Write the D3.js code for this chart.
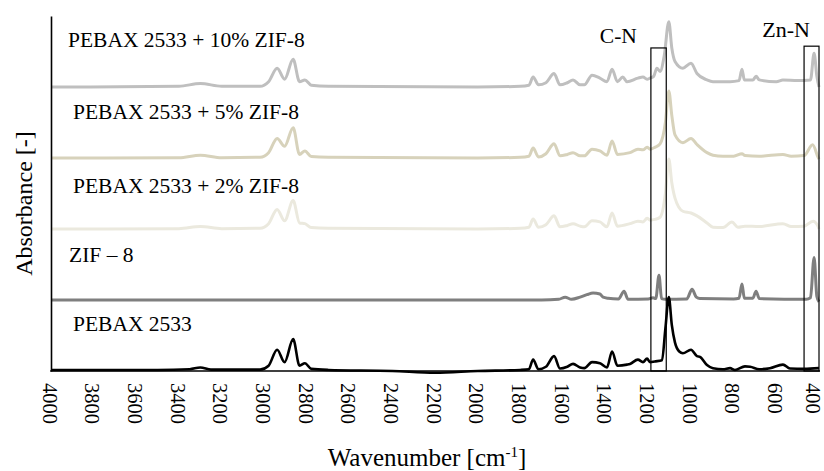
<!DOCTYPE html>
<html lang="en">
<head>
    <meta charset="UTF-8">
    <title>FTIR spectra - PEBAX 2533 / ZIF-8</title>
    <script src="https://d3js.org/d3.v7.min.js"></script>
    <style>
        body {
            margin: 0;
            padding: 0;
            background-color: #ffffff;
        }

        svg, svg text {
            font-family: "Liberation Serif", "Times New Roman", Tinos, "DejaVu Serif", serif !important;
            fill: #000;
        }
    </style>
</head>
<body>
    <div id="chart"></div>

    <script>
        // tick labels on the wavenumber axis
        var xTicks = [4000, 3800, 3600, 3400, 3200, 3000, 2800, 2600, 2400, 2200,
                      2000, 1800, 1600, 1400, 1200, 1000, 800, 600, 400];

        // series names, in drawing order (top trace first)
        var seriesNames = ["PEBAX 2533 + 10% ZIF-8", "PEBAX 2533 + 5% ZIF-8",
                           "PEBAX 2533 + 2% ZIF-8", "ZIF \u2013 8", "PEBAX 2533"];
        // vertical offset of each trace (stacked plot)
        var seriesOffsets = [8, 6, 4, 2, 0];

        // PEBAX 2533 + 10% ZIF-8
        var wn10 = [4000, 3400, 3300, 3200, 3020, 2980, 2940, 2905, 2865, 2835, 2810, 2780, 2700, 2000,
                    1800, 1760, 1740, 1715, 1680, 1642, 1614, 1580, 1553, 1520, 1500, 1464, 1427, 1394,
                    1370, 1345, 1320, 1300, 1249, 1225, 1206, 1192, 1175, 1160, 1145, 1125, 1104, 1090,
                    1075, 1038, 1000, 972, 925, 897, 817, 775, 761, 750, 710, 695, 680, 600, 569, 500,
                    440, 423, 410, 400];
        var abs10 = [0, 0.02, 0.1, 0.02, 0.02, 0.15, 0.53, 0.22, 0.78, 0.15, 0.2, 0.05, 0.02, 0,
                     0.02, 0.05, 0.28, 0.06, 0.12, 0.38, 0.06, 0.12, 0.2, 0.06, 0.06, 0.33, 0.25, 0.15,
                     0.5, 0.15, 0.28, 0.15, 0.25, 0.28, 0.22, 0.25, 0.3, 0.53, 0.44, 0.9, 1.84, 1.1,
                     0.72, 0.53, 0.67, 0.38, 0.2, 0.15, 0.15, 0.18, 0.5, 0.2, 0.2, 0.3, 0.2, 0.15, 0.2, 0.18,
                     0.2, 0.95, 0.3, 0];

        // PEBAX 2533 + 5% ZIF-8
        var wn5 = [4000, 3400, 3300, 3200, 3020, 2980, 2940, 2905, 2865, 2835, 2810, 2780, 2700, 2000,
                   1800, 1760, 1740, 1715, 1680, 1642, 1614, 1580, 1553, 1520, 1500, 1464, 1427, 1394,
                   1370, 1345, 1286, 1249, 1225, 1206, 1192, 1170, 1145, 1120, 1104, 1090, 1075, 1038,
                   1000, 972, 925, 897, 850, 800, 761, 747, 680, 569, 530, 470, 430, 405, 400];
        var abs5 = [0, 0.01, 0.08, 0.01, 0.02, 0.15, 0.55, 0.33, 0.85, 0.1, 0.2, 0.04, 0.02, 0,
                    0.02, 0.05, 0.28, 0.03, 0.12, 0.4, 0.06, 0.1, 0.15, 0.06, 0.06, 0.25, 0.2, 0.08,
                    0.48, 0.1, 0.15, 0.25, 0.23, 0.3, 0.25, 0.3, 0.4, 1.0, 1.89, 1.2, 0.65, 0.43,
                    0.55, 0.38, 0.15, 0.08, 0.05, 0.05, 0.12, 0.07, 0.05, 0.1, 0.05, 0.07, 0.37, 0.03, -0.03];

        // PEBAX 2533 + 2% ZIF-8
        var wn2 = [4000, 3400, 3300, 3200, 3020, 2980, 2940, 2905, 2865, 2835, 2810, 2780, 2700, 2000,
                   1800, 1760, 1740, 1715, 1680, 1642, 1614, 1580, 1553, 1520, 1500, 1464, 1427, 1394,
                   1370, 1345, 1286, 1249, 1225, 1206, 1192, 1170, 1145, 1120, 1104, 1090, 1075, 1038,
                   1000, 972, 925, 897, 850, 808, 780, 747, 680, 569, 530, 470, 428, 405, 400];
        var abs2 = [0, 0.01, 0.07, 0.01, 0.02, 0.15, 0.55, 0.23, 0.8, 0.17, 0.15, 0.04, 0.02, 0,
                    0.02, 0.05, 0.28, 0.05, 0.12, 0.37, 0.06, 0.1, 0.15, 0.08, 0.06, 0.23, 0.2, 0.06,
                    0.45, 0.08, 0.15, 0.22, 0.2, 0.3, 0.25, 0.27, 0.33, 1.0, 1.97, 1.3, 0.87, 0.5,
                    0.45, 0.37, 0.17, 0.05, 0.04, 0.2, 0.05, 0.08, 0.07, 0.15, 0.07, 0.08, 0.22, 0.08, 0];

        // ZIF-8
        var wnZif = [4000, 1700, 1620, 1590, 1560, 1520, 1488, 1459, 1427, 1412, 1389, 1340, 1314, 1295,
                     1200, 1178, 1165, 1150, 1138, 1120, 1020, 995, 975, 958, 800, 775, 761, 750, 710,
                     695, 680, 460, 440, 423, 410, 400];
        var absZif = [0, 0, 0.02, 0.08, 0.02, 0.08, 0.15, 0.2, 0.17, 0.08, 0.05, 0.03, 0.25, 0.02,
                      0.03, 0.06, 0.04, 0.7, 0.04, 0.02, 0.03, 0.3, 0.08, 0.04, 0.03, 0.05, 0.45, 0.05, 0.05,
                      0.25, 0.04, 0.02, 0.06, 1.2, 0.1, -0.05];

        // PEBAX 2533
        var wnPebax = [4000, 3500, 3350, 3300, 3250, 3020, 2980, 2940, 2905, 2865, 2835, 2810, 2780, 2700,
                       2400, 2200, 2000, 1800, 1760, 1740, 1715, 1680, 1642, 1614, 1580, 1553, 1520, 1500,
                       1464, 1427, 1394, 1370, 1345, 1300, 1286, 1249, 1225, 1206, 1192, 1170, 1136, 1120,
                       1104, 1090, 1075, 1055, 1038, 1000, 972, 958, 925, 897, 850, 817, 794, 747, 723,
                       680, 630, 569, 536, 470, 400];
        var absPebax = [0.03, 0.03, 0.05, 0.1, 0.04, 0.04, 0.15, 0.6, 0.25, 0.9, 0.15, 0.22, 0.06, 0.03,
                        0, -0.05, 0, 0.03, 0.05, 0.32, 0.05, 0.12, 0.42, 0.07, 0.12, 0.2, 0.1, 0.08,
                        0.25, 0.22, 0.1, 0.55, 0.15, 0.18, 0.2, 0.32, 0.25, 0.35, 0.25, 0.27, 0.3, 1.2,
                        2.08, 1.3, 0.8, 0.55, 0.5, 0.6, 0.42, 0.4, 0.17, 0.08, 0.05, 0.08, 0.03, 0.13, 0.12,
                        0.05, 0.08, 0.18, 0.07, 0.06, 0.08];

        // marked bands
        var bandNames = ["C-N", "Zn-N"];
        var bandRanges = [[1188, 1116], [470, 400]];
        var bandTops = [9.1, 9.15];

        var seriesWn = [wn10, wn5, wn2, wnZif, wnPebax];
        var seriesAbs = [abs10, abs5, abs2, absZif, absPebax];
        var seriesColors = ["#bfbfbf", "#d7d2bb", "#ebe9de", "#7f7f7f", "#000000"];
        var seriesWidths = [3, 3, 3, 3, 2.6];
        // label anchor (px) for each trace name
        var labelPos = [[68, 47], [73, 118.5], [73, 193], [69, 261.5], [73, 330.5]];

        var serif = '"Liberation Serif", "Times New Roman", Tinos, "DejaVu Serif", serif';
        var width = 824, height = 471;
        var margin = { top: 16, right: 5, bottom: 100, left: 51 };

        var svg = d3.select("#chart")
            .append("svg")
            .attr("width", width)
            .attr("height", height)
            .attr("font-family", serif);

        var x = d3.scaleLinear()
            .domain([4000, 400])
            .range([margin.left, 819]);

        var y = d3.scaleLinear()
            .domain([0, 10])
            .range([371, margin.top]);

        var line = d3.line()
            .x(function (d) { return x(d[0]); })
            .y(function (d) { return y(d[1]); })
            .curve(d3.curveMonotoneX);

        // traces
        seriesNames.forEach(function (name, i) {
            var pts = seriesWn[i].map(function (w, j) {
                return [w, seriesAbs[i][j] + seriesOffsets[i]];
            });
            svg.append("path")
                .datum(pts)
                .attr("fill", "none")
                .attr("stroke", seriesColors[i])
                .attr("stroke-width", seriesWidths[i])
                .attr("stroke-linejoin", "round")
                .attr("d", line);

            svg.append("text")
                .attr("x", labelPos[i][0])
                .attr("y", labelPos[i][1])
                .attr("font-family", serif)
                .style("font-size", "21.5px")
                .text(name);
        });

        // x axis
        var xAxis = svg.append("g")
            .attr("transform", "translate(0,371)")
            .call(d3.axisBottom(x).tickValues(xTicks).tickFormat(d3.format("d"))
                .tickSize(0).tickSizeOuter(0).tickPadding(0));
        xAxis.attr("font-family", serif);
        xAxis.select(".domain")
            .attr("stroke", "#000")
            .attr("stroke-width", 1.6)
            .attr("d", "M" + (margin.left - 0.8) + ",0H820");
        xAxis.selectAll(".tick text")
            .attr("y", 0)
            .attr("dy", null)
            .attr("transform", function (d) {
                // keep the last label inside the picture
                var dx = d === 400 ? -7 : -2;
                return "translate(" + dx + ",12) rotate(90)";
            })
            .attr("text-anchor", "start")
            .attr("dominant-baseline", "central")
            .attr("fill", "#000")
            .style("font-size", "20.5px");

        // y axis (line only)
        var yAxis = svg.append("g")
            .attr("transform", "translate(" + margin.left + ",0)")
            .call(d3.axisLeft(y).tickValues([]).tickSizeOuter(0));
        yAxis.select(".domain")
            .attr("stroke", "#000")
            .attr("stroke-width", 1.6);

        // band boxes
        bandNames.forEach(function (name, i) {
            var x0 = x(bandRanges[i][0]), x1 = x(bandRanges[i][1]);
            svg.append("rect")
                .attr("x", x0)
                .attr("y", y(bandTops[i]))
                .attr("width", x1 - x0)
                .attr("height", y(0) - y(bandTops[i]))
                .attr("fill", "none")
                .attr("stroke", "#000")
                .attr("stroke-width", 1.2);
        });
        svg.append("text")
            .attr("x", x(bandRanges[0][0]) - 14)
            .attr("y", 43)
            .attr("text-anchor", "end")
            .style("font-size", "21.5px")
            .text(bandNames[0]);
        svg.append("text")
            .attr("x", x(bandRanges[1][1]) - 9)
            .attr("y", 37)
            .attr("text-anchor", "end")
            .style("font-size", "22px")
            .text(bandNames[1]);

        // axis titles
        var xt = svg.append("text")
            .attr("x", 427)
            .attr("y", 466)
            .attr("text-anchor", "middle")
            .style("font-size", "25px");
        xt.append("tspan").text("Wavenumber [cm");
        xt.append("tspan")
            .attr("dy", -9)
            .style("font-size", "15px")
            .text("-1");
        xt.append("tspan")
            .attr("dy", 9)
            .text("]");

        svg.append("text")
            .attr("transform", "translate(32,203.5) rotate(-90)")
            .attr("text-anchor", "middle")
            .style("font-size", "24px")
            .text("Absorbance [-]");
    </script>
</body>
</html>
